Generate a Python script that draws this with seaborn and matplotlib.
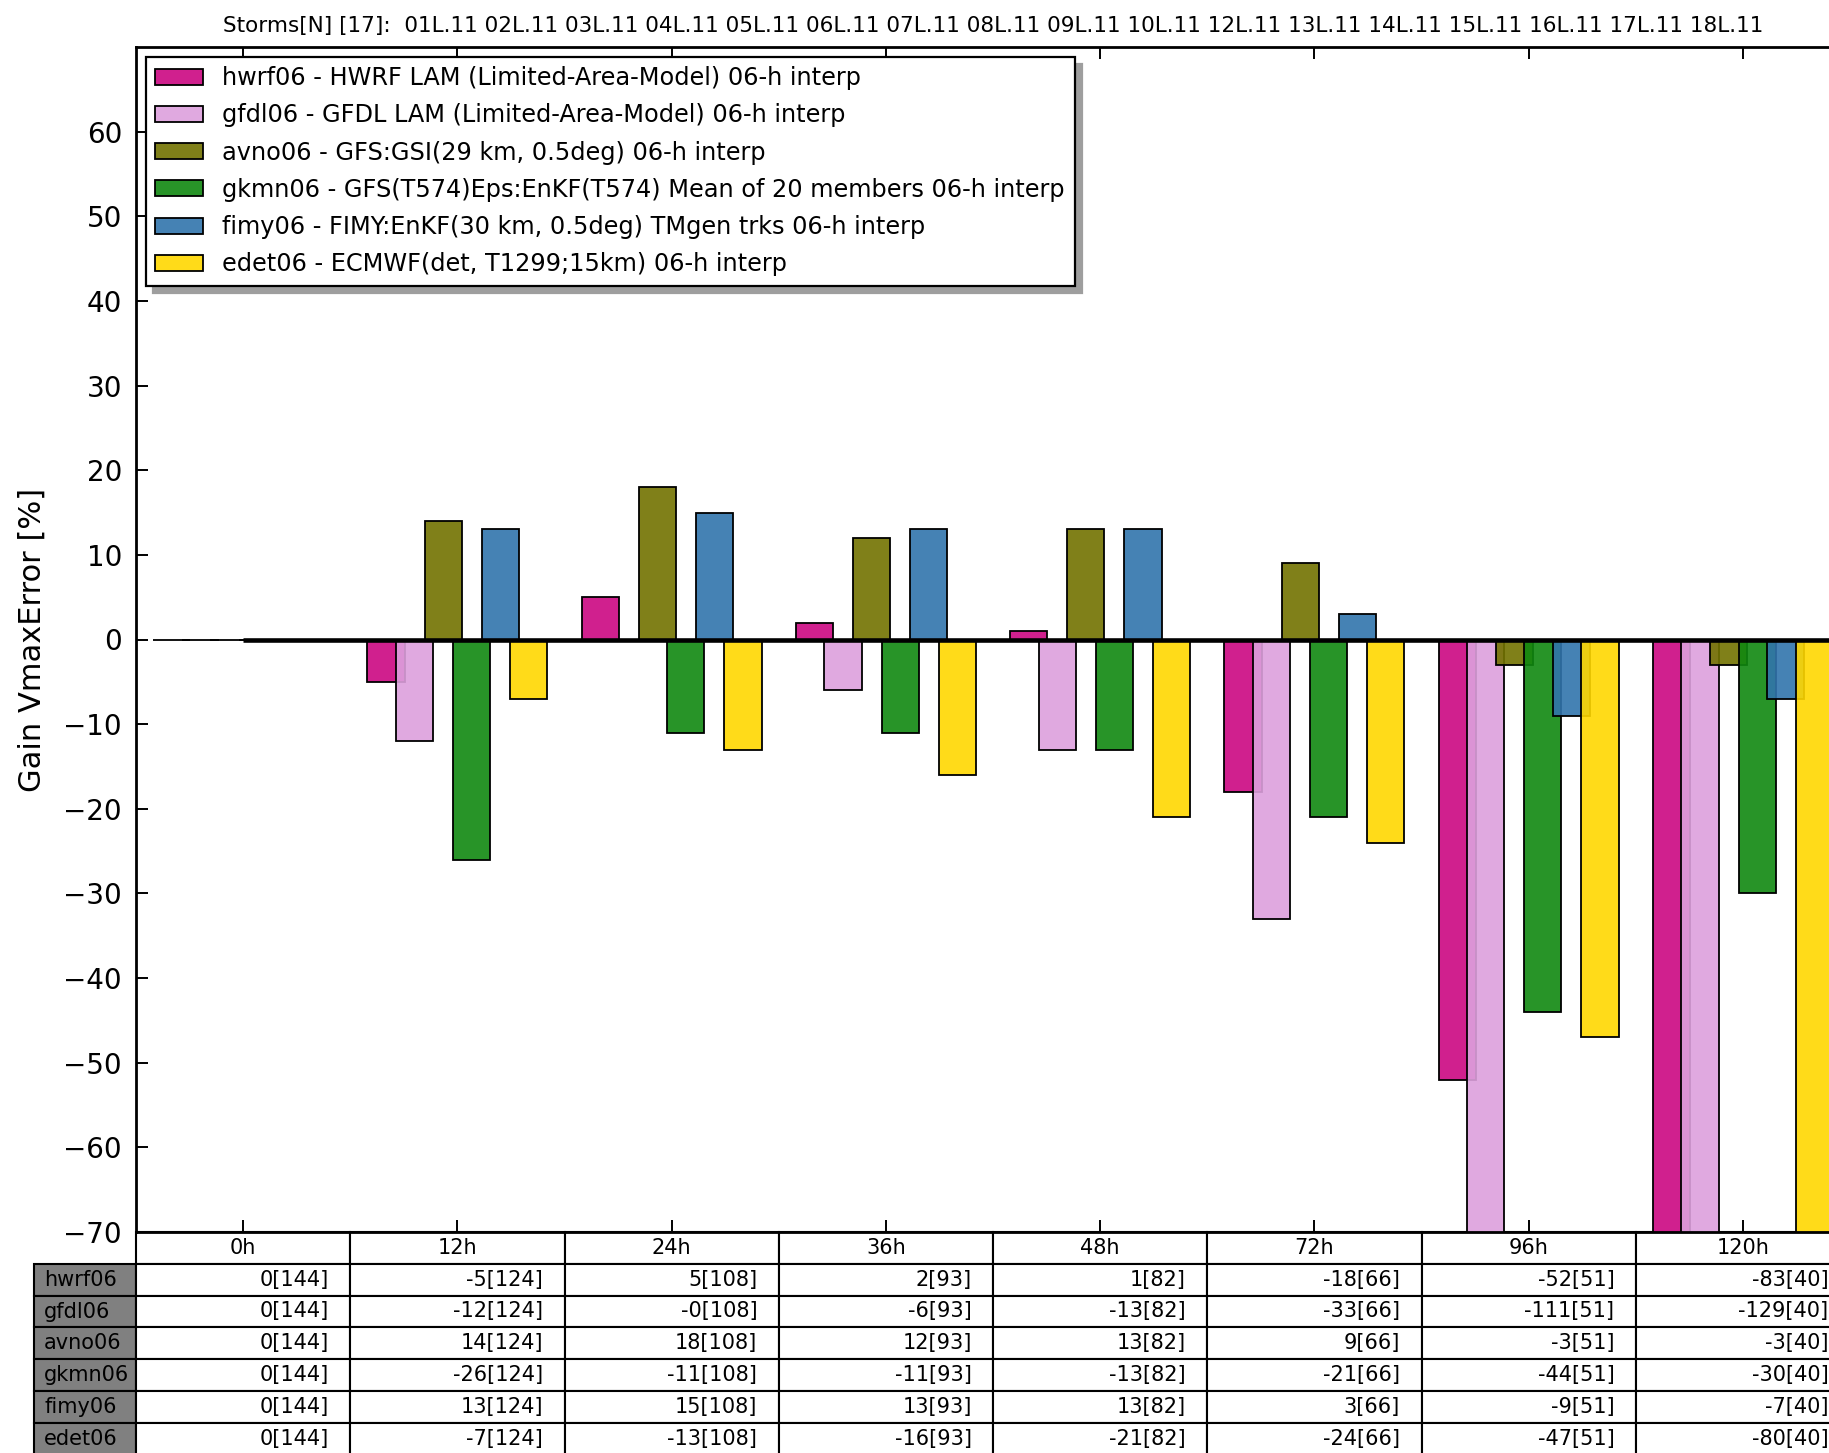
import numpy as np
import pandas as pd
import matplotlib
matplotlib.use("Agg")
import matplotlib.pyplot as plt
from matplotlib.patches import Patch
from matplotlib.colors import to_rgb
import seaborn as sns

# Forecast lead times and number of verifying cases at each lead
leads = ["0h", "12h", "24h", "36h", "48h", "72h", "96h", "120h"]
n_cases = [144, 124, 108, 93, 82, 66, 51, 40]

models = ["hwrf06", "gfdl06", "avno06", "gkmn06", "fimy06", "edet06"]
descriptions = [
    "HWRF LAM (Limited-Area-Model) 06-h interp",
    "GFDL LAM (Limited-Area-Model) 06-h interp",
    "GFS:GSI(29 km, 0.5deg) 06-h interp",
    "GFS(T574)Eps:EnKF(T574) Mean of 20 members 06-h interp",
    "FIMY:EnKF(30 km, 0.5deg) TMgen trks 06-h interp",
    "ECMWF(det, T1299;15km) 06-h interp",
]

# Gain in Vmax error [%] per model and lead time
hwrf06 = [0, -5, 5, 2, 1, -18, -52, -83]
gfdl06 = [0, -12, -0.0, -6, -13, -33, -111, -129]
avno06 = [0, 14, 18, 12, 13, 9, -3, -3]
gkmn06 = [0, -26, -11, -11, -13, -21, -44, -30]
fimy06 = [0, 13, 15, 13, 13, 3, -9, -7]
edet06 = [0, -7, -13, -16, -21, -24, -47, -80]
series = [hwrf06, gfdl06, avno06, gkmn06, fimy06, edet06]

storms = ["01L.11", "02L.11", "03L.11", "04L.11", "05L.11", "06L.11",
          "07L.11", "08L.11", "09L.11", "10L.11", "12L.11", "13L.11",
          "14L.11", "15L.11", "16L.11", "17L.11", "18L.11"]

colors = ["#CB0782", "#DDA0DD", "#727200", "#108810", "#3174AC", "#FFD700"]
bar_alpha = 0.9

df = pd.DataFrame({
    "lead": np.tile(leads, len(models)),
    "model": np.repeat(models, len(leads)),
    "gain": np.concatenate([np.asarray(s, dtype=float) for s in series]),
})

W, H = 1829, 1453
fig = plt.figure(figsize=(W / 100, H / 100), dpi=100)
ax_h = 1185
ax = fig.add_axes([136 / W, (H - 1232) / H, 1714 / W, ax_h / H])

sns.barplot(data=df, x="lead", y="gain", hue="model", order=leads,
            hue_order=models, palette=colors, saturation=1, width=0.8,
            errorbar=None, edgecolor="black", linewidth=1.3,
            legend=False, ax=ax)

# widen each bar symmetrically so neighbours overlap a little
for p in ax.patches:
    w = p.get_width()
    new_w = w * 1.3
    p.set_x(p.get_x() - (new_w - w) / 2)
    p.set_width(new_w)
    fc = p.get_facecolor()
    p.set_facecolor((fc[0], fc[1], fc[2], bar_alpha))
    p.set_edgecolor("black")

ax.hlines(0, 0, len(leads), color="black", lw=3.3, zorder=4)

ax.set_xlim(-0.5, len(leads) - 0.5)
ax.set_ylim(-70, 70)
ax.set_yticks(np.arange(-70, 61, 10))
ax.set_xlabel("")
ax.set_ylabel("Gain VmaxError [%]", fontsize=22, labelpad=12)
ax.tick_params(axis="both", direction="in", length=8.5, width=1.4,
               top=True, right=True, labelbottom=False, labelsize=20, pad=10)
for sp in ax.spines.values():
    sp.set_linewidth(2)
    sp.set_color("black")

ax.set_title("Storms[N] [17]:  " + " ".join(storms), fontsize=15.5, pad=11)

handles = [Patch(facecolor=(*to_rgb(c), bar_alpha), edgecolor="black",
                 linewidth=1.3, label=f"{m} - {d}")
           for m, d, c in zip(models, descriptions, colors)]
leg = ax.legend(handles=handles, loc="upper left", fontsize=17.3,
                fancybox=False, framealpha=1,
                shadow={"ox": 5, "oy": -5, "color": "0.62", "alpha": 1},
                borderaxespad=0.4, labelspacing=0.55, handlelength=2.0,
                handleheight=0.65, handletextpad=0.8, borderpad=0.4)
leg.get_frame().set_edgecolor("black")
leg.get_frame().set_linewidth(1.6)

# Score table below the axes: value[cases] for every model and lead
cell_text = [[f"{v:.0f}[{n}]" for v, n in zip(s, n_cases)] for s in series]
col_w = 1 / len(leads)
label_w = col_w * 102 / 214
tbl_h = 7 * 31.8 / ax_h
tbl = ax.table(cellText=cell_text, colLabels=leads, cellLoc="right",
               colLoc="center", colWidths=[col_w] * len(leads),
               bbox=[0, -tbl_h, 1, tbl_h])
row_h = tbl[(1, 0)].get_height()
for r, name in enumerate(models, start=1):
    tbl.add_cell(r, -1, width=label_w, height=row_h, text=name,
                 loc="left", facecolor="#808080")
tbl.auto_set_font_size(False)
tbl.set_fontsize(15)
for cell in tbl.get_celld().values():
    cell.set_linewidth(1.5)
    cell.set_edgecolor("black")

fig.savefig("out.png", dpi=100)
